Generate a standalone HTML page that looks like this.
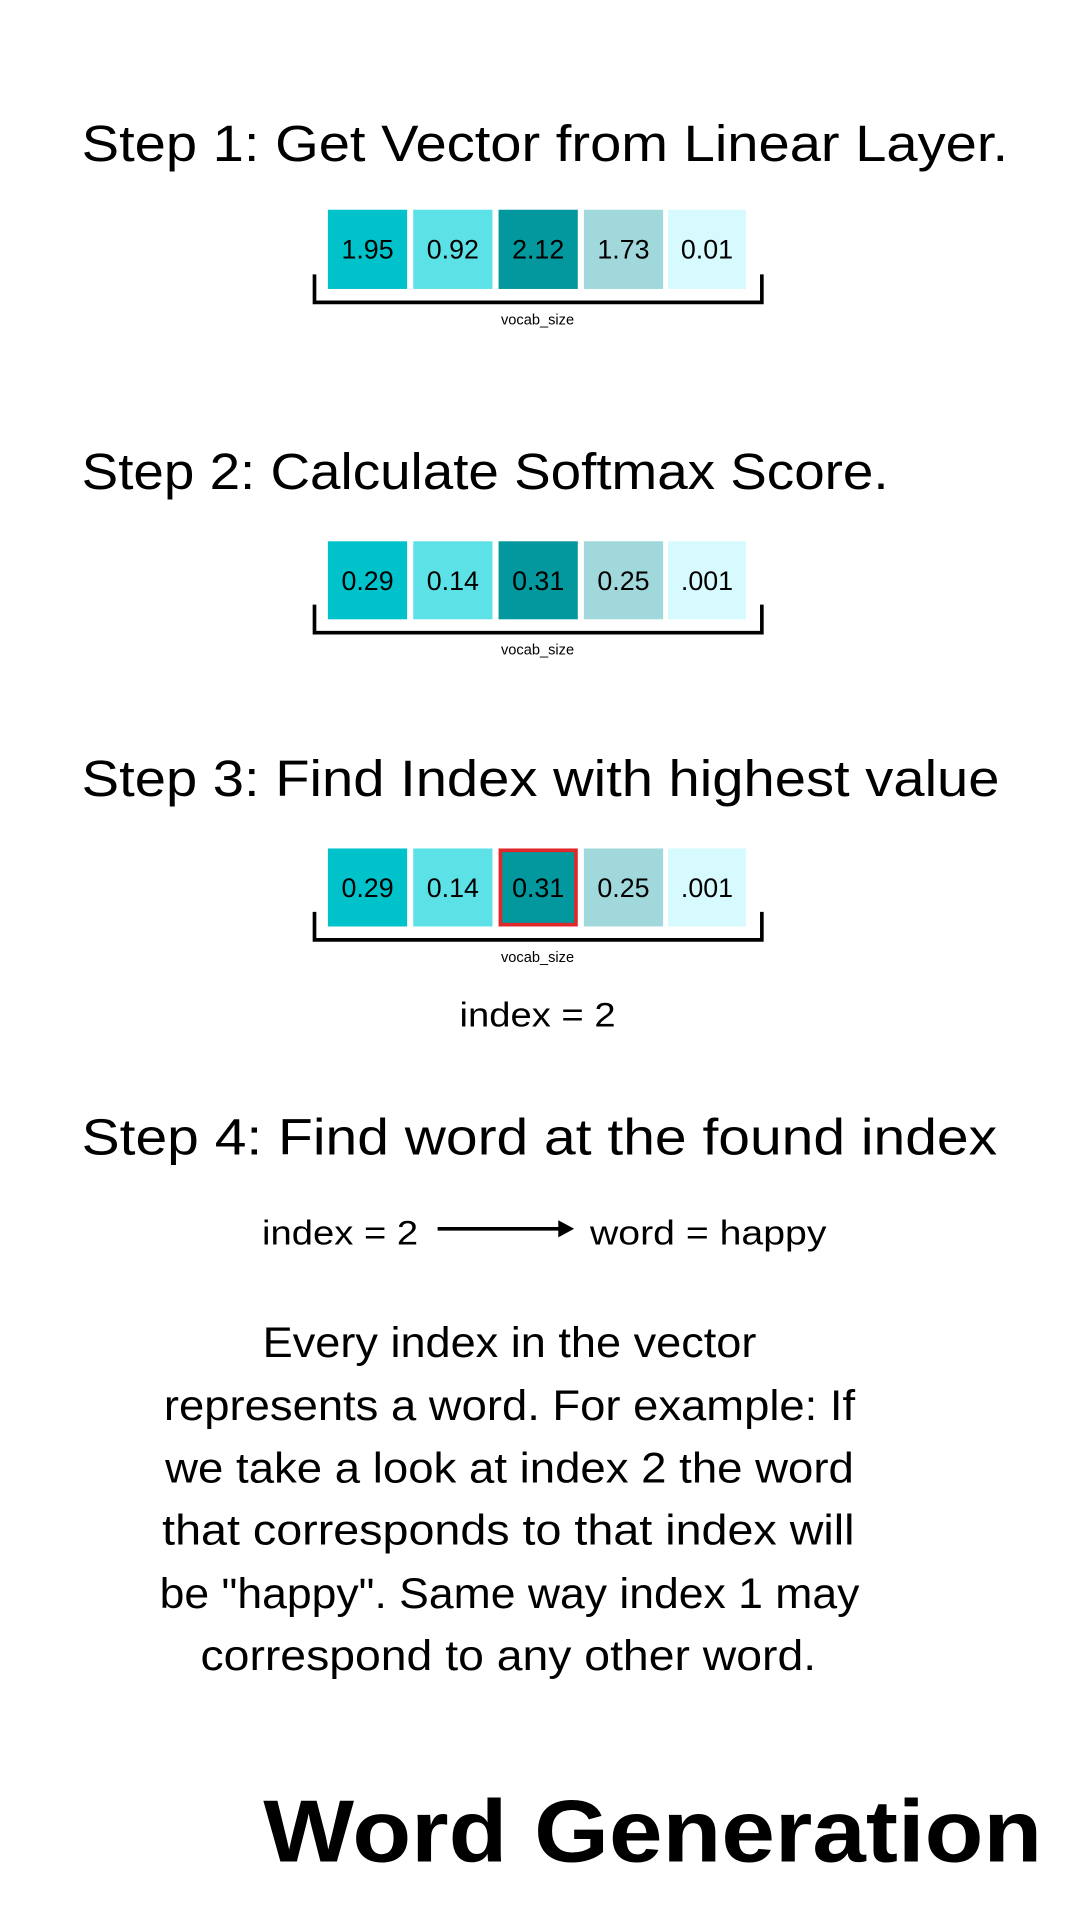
<!DOCTYPE html>
<html><head><meta charset="utf-8"><style>
html,body{margin:0;padding:0;background:#fff;}
svg{display:block}
text{font-family:"Liberation Sans",sans-serif;fill:#000}
</style></head><body>
<svg width="1080" height="1920" viewBox="0 0 886 1575" xmlns="http://www.w3.org/2000/svg">
<rect width="886" height="1575" fill="#fff"/>
<text x="67" y="132" font-size="42" textLength="760" lengthAdjust="spacingAndGlyphs">Step 1: Get Vector from Linear Layer.</text>
<g font-size="22" text-anchor="middle">
<rect x="269" y="172" width="65" height="65" fill="#00C2CB"/><rect x="339" y="172" width="65" height="65" fill="#5CE1E6"/><rect x="409" y="172" width="65" height="65" fill="#03989E"/><rect x="479" y="172" width="65" height="65" fill="#A0D8DC"/><rect x="548" y="172" width="64" height="65" fill="#D6FAFD"/>
<text x="301.5" y="212" fill="#222">1.95</text><text x="371.5" y="212">0.92</text><text x="441.5" y="212">2.12</text><text x="511.5" y="212">1.73</text><text x="580" y="212">0.01</text>
</g>
<path d="M258 225 V248 H625 V225" fill="none" stroke="#000" stroke-width="3"/>
<text x="441" y="266" font-size="12" text-anchor="middle" fill="#333">vocab_size</text>

<text x="67" y="401" font-size="42" textLength="662" lengthAdjust="spacingAndGlyphs">Step 2: Calculate Softmax Score.</text>
<g font-size="22" text-anchor="middle">
<rect x="269" y="444" width="65" height="64" fill="#00C2CB"/><rect x="339" y="444" width="65" height="64" fill="#5CE1E6"/><rect x="409" y="444" width="65" height="64" fill="#03989E"/><rect x="479" y="444" width="65" height="64" fill="#A0D8DC"/><rect x="548" y="444" width="64" height="64" fill="#D6FAFD"/>
<text x="301.5" y="484">0.29</text><text x="371.5" y="484">0.14</text><text x="441.5" y="484">0.31</text><text x="511.5" y="484">0.25</text><text x="580" y="484">.001</text>
</g>
<path d="M258 496 V519 H625 V496" fill="none" stroke="#000" stroke-width="3"/>
<text x="441" y="537" font-size="12" text-anchor="middle" fill="#333">vocab_size</text>

<text x="67" y="653" font-size="42" textLength="753" lengthAdjust="spacingAndGlyphs">Step 3: Find Index with highest value</text>
<g font-size="22" text-anchor="middle">
<rect x="269" y="696" width="65" height="64" fill="#00C2CB"/><rect x="339" y="696" width="65" height="64" fill="#5CE1E6"/><rect x="410.5" y="697.5" width="62" height="61" fill="#03989E" stroke="#E0282B" stroke-width="3"/><rect x="479" y="696" width="65" height="64" fill="#A0D8DC"/><rect x="548" y="696" width="64" height="64" fill="#D6FAFD"/>
<text x="301.5" y="736">0.29</text><text x="371.5" y="736">0.14</text><text x="441.5" y="736">0.31</text><text x="511.5" y="736">0.25</text><text x="580" y="736">.001</text>
</g>
<path d="M258 748 V771 H625 V748" fill="none" stroke="#000" stroke-width="3"/>
<text x="441" y="789" font-size="12" text-anchor="middle" fill="#333">vocab_size</text>
<text x="441" y="842" font-size="28" text-anchor="middle" textLength="128" lengthAdjust="spacingAndGlyphs">index = 2</text>

<text x="67" y="947" font-size="42" textLength="751" lengthAdjust="spacingAndGlyphs">Step 4: Find word at the found index</text>
<text x="215" y="1021" font-size="28" textLength="128" lengthAdjust="spacingAndGlyphs">index = 2</text>
<line x1="359" y1="1008" x2="460" y2="1008" stroke="#000" stroke-width="3"/>
<path d="M458 1001 L471 1008 L458 1015 Z" fill="#000"/>
<text x="484" y="1021" font-size="28" textLength="194" lengthAdjust="spacingAndGlyphs">word = happy</text>

<g font-size="35" text-anchor="middle" fill="#111">
<text x="418" y="1113" textLength="405" lengthAdjust="spacingAndGlyphs">Every index in the vector</text>
<text x="418" y="1165" textLength="567" lengthAdjust="spacingAndGlyphs">represents a word. For example: If</text>
<text x="418" y="1216" textLength="565" lengthAdjust="spacingAndGlyphs">we take a look at index 2 the word</text>
<text x="417" y="1267" textLength="568" lengthAdjust="spacingAndGlyphs">that corresponds to that index will</text>
<text x="418" y="1319" textLength="574" lengthAdjust="spacingAndGlyphs">be "happy". Same way index 1 may</text>
<text x="417" y="1370" textLength="505" lengthAdjust="spacingAndGlyphs">correspond to any other word.</text>
</g>
<text x="216" y="1527" font-size="72" font-weight="bold" textLength="639" lengthAdjust="spacingAndGlyphs">Word Generation</text>
</svg>
</body></html>
